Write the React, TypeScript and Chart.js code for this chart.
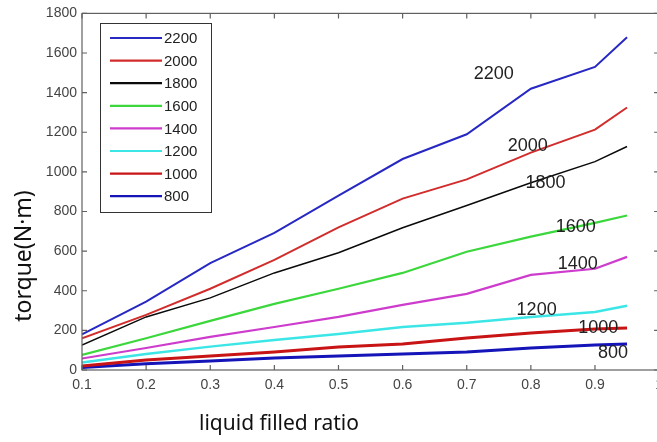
import React, { useEffect, useRef } from "react";
import { Chart, registerables } from "chart.js";

Chart.register(...registerables);

// ---- data ----
const ratios = [0.1, 0.2, 0.3, 0.4, 0.5, 0.6, 0.7, 0.8, 0.9, 0.95];
const speeds = ["2200", "2000", "1800", "1600", "1400", "1200", "1000", "800"];
const torque2200 = [180, 345, 540, 692, 880, 1065, 1190, 1420, 1530, 1680];
const torque2000 = [160, 278, 410, 556, 720, 865, 962, 1097, 1213, 1325];
const torque1800 = [126, 268, 364, 490, 592, 718, 830, 945, 1052, 1128];
const torque1600 = [76, 160, 248, 334, 410, 490, 597, 673, 743, 780];
const torque1400 = [58, 111, 167, 217, 268, 329, 384, 480, 511, 571];
const torque1200 = [38, 81, 118, 152, 182, 217, 238, 268, 293, 324];
const torque1000 = [20, 51, 71, 91, 116, 131, 162, 187, 207, 212];
const torque800 = [12, 32, 45, 60, 71, 81, 91, 111, 126, 131];
const xTickValues = [0.1, 0.2, 0.3, 0.4, 0.5, 0.6, 0.7, 0.8, 0.9, 1.0];
const yTickValues = [0, 200, 400, 600, 800, 1000, 1200, 1400, 1600, 1800];
// in-plot curve labels (data coordinates)
const curveLabelX = [0.742, 0.795, 0.823, 0.87, 0.873, 0.809, 0.905, 0.928];
const curveLabelY = [1492, 1133, 945, 723, 536, 303, 212, 86];

const seriesValues = [torque2200, torque2000, torque1800, torque1600, torque1400, torque1200, torque1000, torque800];
const seriesColors = [
  "rgb(40,40,195)",
  "rgb(210,45,45)",
  "rgb(10,10,10)",
  "rgb(60,215,60)",
  "rgb(205,60,205)",
  "rgb(60,230,230)",
  "rgb(200,20,20)",
  "rgb(20,20,185)",
];
const seriesWidths = [2, 2, 1.5, 2.2, 2.2, 2.5, 3, 3];

const FONT = "'Liberation Sans', Arial, sans-serif";

const framePlugin = {
  id: "frame",
  afterDraw(chart: any) {
    const { ctx, chartArea: a, scales } = chart;
    ctx.save();
    ctx.strokeStyle = "#606060";
    ctx.lineWidth = 1.2;
    ctx.strokeRect(a.left, a.top, a.right - a.left, a.bottom - a.top);
    const tl = 5;
    ctx.beginPath();
    xTickValues.forEach((v) => {
      const px = scales.x.getPixelForValue(v);
      ctx.moveTo(px, a.bottom);
      ctx.lineTo(px, a.bottom - tl);
      ctx.moveTo(px, a.top);
      ctx.lineTo(px, a.top + tl);
    });
    yTickValues.forEach((v) => {
      const py = scales.y.getPixelForValue(v);
      ctx.moveTo(a.left, py);
      ctx.lineTo(a.left + tl, py);
      ctx.moveTo(a.right, py);
      ctx.lineTo(a.right - tl, py);
    });
    ctx.stroke();

    // curve labels
    ctx.fillStyle = "#222";
    ctx.font = `18px ${FONT}`;
    ctx.textAlign = "center";
    ctx.textBaseline = "middle";
    speeds.forEach((s, i) => {
      ctx.fillText(s, scales.x.getPixelForValue(curveLabelX[i]), scales.y.getPixelForValue(curveLabelY[i]));
    });

    // legend box
    const lx = 100, ly = 23, lw = 111, lh = 189;
    ctx.fillStyle = "#fff";
    ctx.fillRect(lx, ly, lw, lh);
    ctx.strokeStyle = "#333";
    ctx.lineWidth = 1;
    ctx.strokeRect(lx + 0.5, ly + 0.5, lw, lh);
    ctx.font = `15px ${FONT}`;
    ctx.textAlign = "left";
    ctx.textBaseline = "middle";
    chart.data.datasets.forEach((ds: any, i: number) => {
      const y = 38 + i * 22.6;
      ctx.strokeStyle = ds.borderColor;
      ctx.lineWidth = 2.2;
      ctx.beginPath();
      ctx.moveTo(110, y);
      ctx.lineTo(162, y);
      ctx.stroke();
      ctx.fillStyle = "#222";
      ctx.fillText(ds.label, 164, y + 1);
    });

    // axis titles
    ctx.fillStyle = "#111";
    ctx.font = `21px 'Noto Sans', ${FONT}`;
    ctx.textAlign = "center";
    ctx.textBaseline = "middle";
    ctx.fillText("liquid filled ratio", 279, 424);
    ctx.save();
    ctx.translate(24, 256);
    ctx.rotate(-Math.PI / 2);
    ctx.font = `23px 'Noto Sans', ${FONT}`;
    ctx.fillText("torque(N·m)", 0, 0);
    ctx.restore();
    ctx.restore();
  },
};

export default function App() {
  const ref = useRef<HTMLCanvasElement>(null);
  useEffect(() => {
    document.body.style.margin = "0";
    const chart = new Chart(ref.current!, {
      type: "line",
      data: {
        datasets: speeds.map((s, i) => ({
          label: s,
          data: ratios.map((r, j) => ({ x: r, y: seriesValues[i][j] })),
          borderColor: seriesColors[i],
          backgroundColor: seriesColors[i],
          borderWidth: seriesWidths[i],
          pointRadius: 0,
          tension: 0,
          fill: false,
        })),
      },
      options: {
        responsive: false,
        animation: false,
        layout: { padding: { top: 10, left: 0, right: 0, bottom: 0 } },
        plugins: { legend: { display: false }, tooltip: { enabled: false } },
        scales: {
          x: {
            type: "linear",
            min: 0.1,
            max: 1.0,
            grid: { display: false, drawTicks: false },
            border: { display: false },
            afterBuildTicks: (scale: any) => {
              scale.ticks = xTickValues.map((v) => ({ value: v }));
            },
            afterFit: (scale: any) => {
              scale.height = 72;
            },
            ticks: {
              autoSkip: false,
              maxRotation: 0,
              padding: 7,
              color: "#444",
              font: { family: FONT, size: 14 },
              callback: (v: any) => String(Number(Number(v).toFixed(1))),
            },
          },
          y: {
            min: 0,
            max: 1800,
            grid: { display: false, drawTicks: false },
            border: { display: false },
            afterBuildTicks: (scale: any) => {
              scale.ticks = yTickValues.map((v) => ({ value: v }));
            },
            afterFit: (scale: any) => {
              scale.width = 82;
            },
            ticks: {
              padding: 5,
              color: "#444",
              font: { family: FONT, size: 14 },
              callback: (v: any) => String(v),
            },
          },
        },
      },
      plugins: [framePlugin],
    });
    return () => chart.destroy();
  }, []);
  return (
    <div style={{ width: 657, height: 442, overflow: "hidden", background: "#fff" }}>
      <canvas ref={ref} width={670} height={442} style={{ width: 670, height: 442, display: "block" }} />
    </div>
  );
}
